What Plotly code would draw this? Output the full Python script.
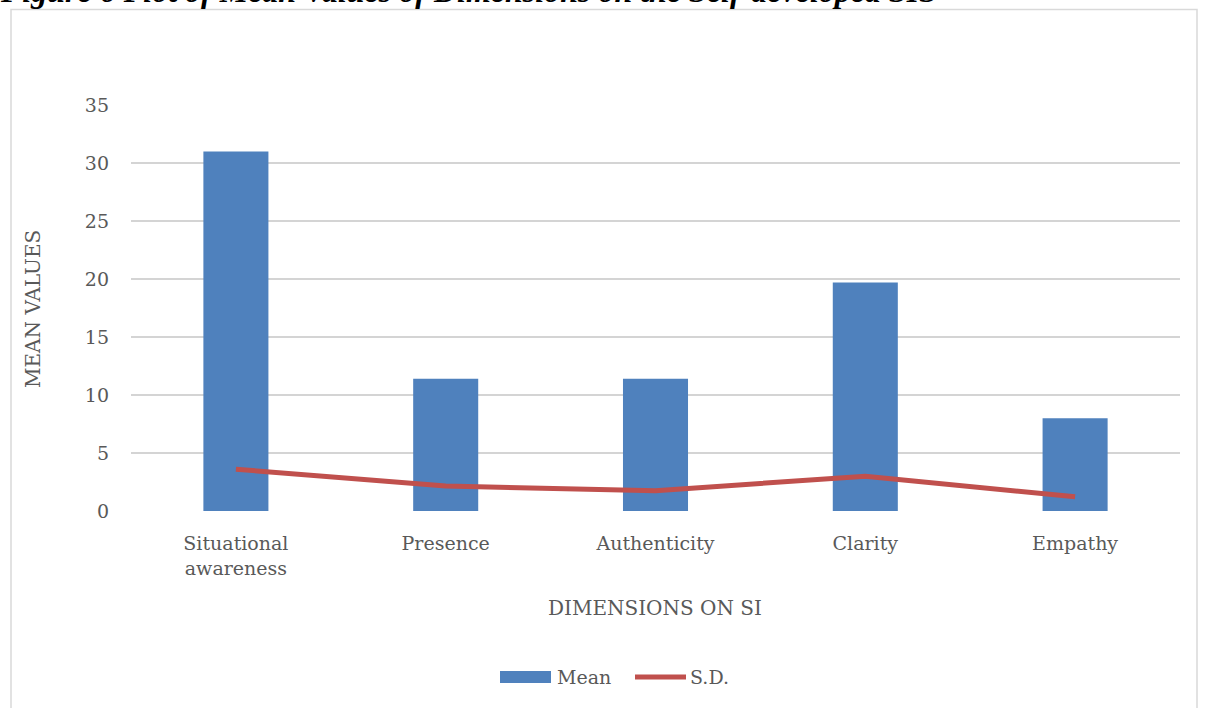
import plotly.graph_objects as go

categories = ["Situational<br>awareness", "Presence", "Authenticity", "Clarity", "Empathy"]
mean_values = [31.0, 11.4, 11.4, 19.7, 8.0]
sd_values = [3.6, 2.15, 1.75, 3.0, 1.23]
y_ticks = [0, 5, 10, 15, 20, 25, 30, 35]

FONT = "DejaVu Serif"
GREY = "#595959"
BLUE = "#4f81bd"
RED = "#c0504d"

fig = go.Figure()
fig.add_trace(go.Bar(x=categories, y=mean_values, name="Mean",
                     marker=dict(color=BLUE, line=dict(width=0))))
fig.add_trace(go.Scatter(x=categories, y=sd_values, name="S.D.", mode="lines",
                         line=dict(color=RED, width=5)))

W, H = 1206, 708
L, R, T, B = 131, 1180, 105, 511
pw, ph = R - L, B - T

def px(x):
    return (x - L) / pw

def py(y):
    return (B - y) / ph

shapes = [
    dict(type="rect", xref="paper", yref="paper",
         x0=px(11), x1=px(1197), y0=py(760), y1=py(9.5),
         line=dict(color="#d9d9d9", width=1.5), fillcolor="rgba(0,0,0,0)", layer="below"),
    # legend keys
    dict(type="rect", xref="paper", yref="paper",
         x0=px(500), x1=px(551), y0=py(683), y1=py(671),
         line=dict(width=0), fillcolor=BLUE),
    dict(type="line", xref="paper", yref="paper",
         x0=px(635), x1=px(686), y0=py(677), y1=py(677),
         line=dict(color=RED, width=5)),
]

annotations = [
    dict(text="MEAN VALUES", xref="paper", yref="paper", x=px(33), y=py(309),
         textangle=-90, showarrow=False, xanchor="center", yanchor="middle",
         font=dict(family=FONT, size=20, color=GREY)),
    dict(text="DIMENSIONS ON SI", xref="paper", yref="paper", x=px(655), y=py(608),
         showarrow=False, xanchor="center", yanchor="middle",
         font=dict(family=FONT, size=20, color=GREY)),
    dict(text="Mean", xref="paper", yref="paper", x=px(555), y=py(677),
         showarrow=False, xanchor="left", yanchor="middle",
         font=dict(family=FONT, size=19, color=GREY)),
    dict(text="S.D.", xref="paper", yref="paper", x=px(688), y=py(677),
         showarrow=False, xanchor="left", yanchor="middle",
         font=dict(family=FONT, size=19, color=GREY)),
    dict(text="<b><i>Figure 6 Plot of Mean Values of Dimensions on the Self-developed SIS</i></b>",
         xref="paper", yref="paper", x=px(-2), y=py(-9), showarrow=False,
         xanchor="left", yanchor="middle",
         font=dict(family="Liberation Serif, Times New Roman, serif", size=32, color="black")),
]

fig.update_layout(
    width=W, height=H,
    margin=dict(l=L, r=W - R, t=T, b=H - B),
    paper_bgcolor="white", plot_bgcolor="white",
    font=dict(family=FONT, size=19, color=GREY),
    bargap=0.69,
    showlegend=False,
    xaxis=dict(showgrid=False, showline=False, ticks="", ticklabelstandoff=19,
               tickfont=dict(family=FONT, size=19, color=GREY)),
    yaxis=dict(range=[0, 35], tickvals=y_ticks, showgrid=True, gridcolor="#d4d4d4",
               gridwidth=1.5, zeroline=False, showline=False, ticks="",
               ticklabelstandoff=21, tickfont=dict(family=FONT, size=19, color=GREY)),
    shapes=shapes,
    annotations=annotations,
)

fig.write_html("out.html")
